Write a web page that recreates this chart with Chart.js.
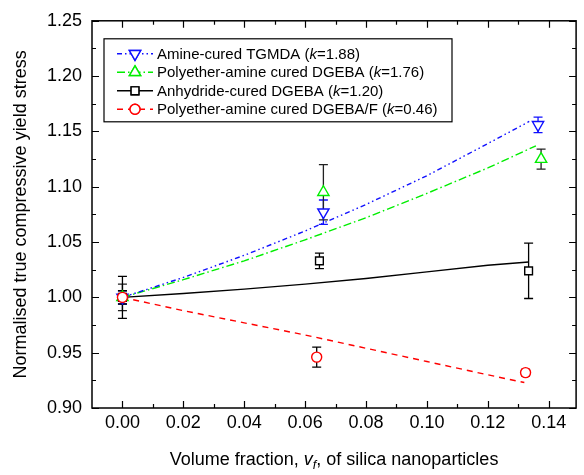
<!DOCTYPE html>
<html>
<head>
<meta charset="utf-8">
<script src="https://cdn.jsdelivr.net/npm/chart.js@4.4.1/dist/chart.umd.min.js"></script>
<style>
  html, body { margin: 0; padding: 0; background: #fff; }
  #wrap { position: relative; width: 584px; height: 475px; }
</style>
</head>
<body>
<div id="wrap"><canvas id="chart"></canvas></div>
<script>
// Axes
const xTickValues = [0, 0.02, 0.04, 0.06, 0.08, 0.10, 0.12, 0.14];
const xMinorValues = [0.01, 0.03, 0.05, 0.07, 0.09, 0.11, 0.13];
const yTickValues = [0.90, 0.95, 1.00, 1.05, 1.10, 1.15, 1.20, 1.25];
const yMinorValues = [0.925, 0.975, 1.025, 1.075, 1.125, 1.175, 1.225];

// Legend
const seriesNames = ['Amine-cured TGMDA', 'Polyether-amine cured DGEBA', 'Anhydride-cured DGEBA', 'Polyether-amine cured DGEBA/F'];
const kValues = ['1.88', '1.76', '1.20', '0.46'];

// Measured points (vf, normalised stress, error)
const tgmdaX = [0, 0.066, 0.1365];
const tgmdaY = [1.000, 1.077, 1.156];
const tgmdaErr = [0.006, 0.011, 0.007];

const dgebaX = [0, 0.066, 0.1375];
const dgebaY = [1.000, 1.095, 1.125];
const dgebaErr = [0.012, 0.025, 0.009];

const anhX = [0, 0.0647, 0.1334];
const anhY = [1.000, 1.033, 1.024];
const anhErr = [0.019, 0.007, 0.025];

const dgebafX = [0, 0.0638, 0.1324];
const dgebafY = [1.000, 0.946, 0.932];
const dgebafErr = [0.006, 0.009, 0.003];

// Model curves
const tgmdaModelX = [0, 0.02, 0.04, 0.06, 0.08, 0.10, 0.12, 0.1336];
const tgmdaModelY = [1.000, 1.018, 1.038, 1.060, 1.084, 1.110, 1.139, 1.159];
const dgebaModelX = [0, 0.02, 0.04, 0.06, 0.08, 0.10, 0.12, 0.1358];
const dgebaModelY = [1.000, 1.016, 1.033, 1.052, 1.072, 1.094, 1.117, 1.137];
const anhModelX = [0, 0.02, 0.04, 0.06, 0.08, 0.10, 0.12, 0.1334];
const anhModelY = [1.000, 1.0035, 1.0075, 1.012, 1.017, 1.023, 1.029, 1.032];
const dgebafModelX = [0, 0.02, 0.04, 0.06, 0.08, 0.10, 0.12, 0.132];
const dgebafModelY = [1.000, 0.988, 0.977, 0.966, 0.954, 0.942, 0.930, 0.923];

const FONT = '"Liberation Sans", Arial, sans-serif';
const toXY = (xs, ys) => xs.map((x, i) => ({ x, y: ys[i] }));

const styles = [
  { color: '#1010ff', dash: [5, 3, 1.5, 3, 1.5, 3], point: 'triangle', rot: 180, r: 6.5, errColor: '#1010ff' },
  { color: '#00ee00', dash: [8, 3, 1.5, 3], point: 'triangle', rot: 0, r: 6.5, errColor: '#222' },
  { color: '#000000', dash: [], point: 'rect', rot: 0, r: 5.5, errColor: '#000' },
  { color: '#ff0000', dash: [6, 5], point: 'circle', rot: 0, r: 5, errColor: '#000' }
];

const measured = [
  { xs: tgmdaX, ys: tgmdaY, err: tgmdaErr },
  { xs: dgebaX, ys: dgebaY, err: dgebaErr },
  { xs: anhX, ys: anhY, err: anhErr },
  { xs: dgebafX, ys: dgebafY, err: dgebafErr }
];
const models = [
  toXY(tgmdaModelX, tgmdaModelY),
  toXY(dgebaModelX, dgebaModelY),
  toXY(anhModelX, anhModelY),
  toXY(dgebafModelX, dgebafModelY)
];

const datasets = [];
models.forEach((m, i) => {
  datasets.push({
    type: 'line', data: m, borderColor: styles[i].color, borderWidth: 1.4,
    borderDash: styles[i].dash, pointRadius: 0, fill: false, tension: 0, order: 10
  });
});
measured.forEach((m, i) => {
  datasets.push({
    type: 'scatter', data: toXY(m.xs, m.ys), showLine: false,
    pointStyle: styles[i].point, pointRadius: styles[i].r, pointRotation: styles[i].rot,
    pointBorderColor: styles[i].color, pointBackgroundColor: '#fff',
    pointBorderWidth: 1.4, order: 4 - i
  });
});

function drawRich(ctx, parts, x, y, size) {
  parts.forEach(p => {
    const fs = p.sub ? size * 0.7 : size;
    ctx.font = `${p.italic ? 'italic ' : ''}${fs}px ${FONT}`;
    ctx.fillText(p.t, x, y + (p.sub ? size * 0.3 : 0));
    x += ctx.measureText(p.t).width;
  });
}
function richWidth(ctx, parts, size) {
  let w = 0;
  parts.forEach(p => {
    const fs = p.sub ? size * 0.7 : size;
    ctx.font = `${p.italic ? 'italic ' : ''}${fs}px ${FONT}`;
    w += ctx.measureText(p.t).width;
  });
  return w;
}

const decorations = {
  id: 'decorations',
  beforeDatasetsDraw(chart) {
    // error bars
    const { ctx, scales: { x, y } } = chart;
    ctx.save();
    ctx.lineWidth = 1.3;
    measured.forEach((m, i) => {
      ctx.strokeStyle = styles[i].errColor;
      m.xs.forEach((vx, j) => {
        const px = x.getPixelForValue(vx);
        const top = y.getPixelForValue(m.ys[j] + m.err[j]);
        const bot = y.getPixelForValue(m.ys[j] - m.err[j]);
        ctx.beginPath();
        ctx.moveTo(px, top); ctx.lineTo(px, bot);
        ctx.moveTo(px - 4.5, top); ctx.lineTo(px + 4.5, top);
        ctx.moveTo(px - 4.5, bot); ctx.lineTo(px + 4.5, bot);
        ctx.stroke();
      });
    });
    ctx.restore();
  },
  afterDatasetsDraw(chart) {
    const { ctx, chartArea: a, scales: { x, y } } = chart;
    ctx.save();
    // frame
    ctx.strokeStyle = '#000';
    ctx.lineWidth = 1.5;
    ctx.strokeRect(a.left, a.top, a.right - a.left, a.bottom - a.top);
    // inward ticks on all four sides
    ctx.lineWidth = 1.2;
    ctx.beginPath();
    const xt = (v, len) => {
      const px = Math.round(x.getPixelForValue(v)) + 0.5;
      ctx.moveTo(px, a.bottom); ctx.lineTo(px, a.bottom - len);
      ctx.moveTo(px, a.top); ctx.lineTo(px, a.top + len);
    };
    const yt = (v, len) => {
      const py = Math.round(y.getPixelForValue(v)) + 0.5;
      ctx.moveTo(a.left, py); ctx.lineTo(a.left + len, py);
      ctx.moveTo(a.right, py); ctx.lineTo(a.right - len, py);
    };
    xTickValues.forEach(v => xt(v, 7));
    xMinorValues.forEach(v => xt(v, 4));
    yTickValues.forEach(v => yt(v, 7));
    yMinorValues.forEach(v => yt(v, 4));
    ctx.stroke();

    // x axis title
    const title = [
      { t: 'Volume fraction, ' }, { t: 'v', italic: true }, { t: 'f', italic: true, sub: true },
      { t: ', of silica nanoparticles' }
    ];
    ctx.fillStyle = '#000';
    ctx.textBaseline = 'middle';
    const tw = richWidth(ctx, title, 18);
    drawRich(ctx, title, (a.left + a.right) / 2 - tw / 2, 460, 18);

    // legend
    const lx = a.left + 12, ly = a.top + 18;
    const lw = 348, lh = 83;
    ctx.fillStyle = '#fff';
    ctx.fillRect(lx, ly, lw, lh);
    ctx.strokeStyle = '#000';
    ctx.lineWidth = 1.2;
    ctx.strokeRect(lx, ly, lw, lh);
    seriesNames.forEach((name, i) => {
      const cy = ly + 15 + i * 18.5;
      const st = styles[i];
      ctx.strokeStyle = st.color;
      ctx.lineWidth = 1.4;
      ctx.setLineDash(st.dash);
      ctx.beginPath();
      ctx.moveTo(lx + 13, cy); ctx.lineTo(lx + 49, cy);
      ctx.stroke();
      ctx.setLineDash([]);
      Chart.helpers.drawPoint(ctx, {
        pointStyle: st.point, radius: st.r, rotation: st.rot, borderWidth: 1.4
      }, lx + 31, cy);
      ctx.fillStyle = '#fff';
      ctx.fill();
      ctx.stroke();
      ctx.fillStyle = '#000';
      drawRich(ctx, [
        { t: name + ' (' }, { t: 'k', italic: true }, { t: '=' + kValues[i] + ')' }
      ], lx + 53, cy + 1, 15);
    });
    ctx.restore();
  }
};

Chart.defaults.color = '#000';
Chart.defaults.font.family = FONT;

new Chart(document.getElementById('chart'), {
  type: 'scatter',
  data: { datasets },
  options: {
    responsive: true,
    maintainAspectRatio: false,
    animation: false,
    layout: { padding: { left: 0, right: 4, top: 14, bottom: 0 } },
    plugins: { legend: { display: false }, tooltip: { enabled: false } },
    scales: {
      x: {
        type: 'linear', min: -0.01, max: 0.149,
        grid: { display: false, drawTicks: false }, border: { display: false },
        afterBuildTicks: s => { s.ticks = xTickValues.map(v => ({ value: v })); },
        afterFit: s => { s.height = 67; },
        ticks: { font: { size: 18 }, padding: 4, maxRotation: 0, callback: v => v.toFixed(2) }
      },
      y: {
        type: 'linear', min: 0.90, max: 1.25,
        grid: { display: false, drawTicks: false }, border: { display: false },
        afterBuildTicks: s => { s.ticks = yTickValues.map(v => ({ value: v })); },
        afterFit: s => { s.width = 92; },
        ticks: { font: { size: 18 }, padding: 10, callback: v => v.toFixed(2) },
        title: {
          display: true, text: 'Normalised true compressive yield stress',
          font: { size: 18 }, padding: { top: 10, bottom: 0 }
        }
      }
    }
  },
  plugins: [decorations]
});
</script>
</body>
</html>
